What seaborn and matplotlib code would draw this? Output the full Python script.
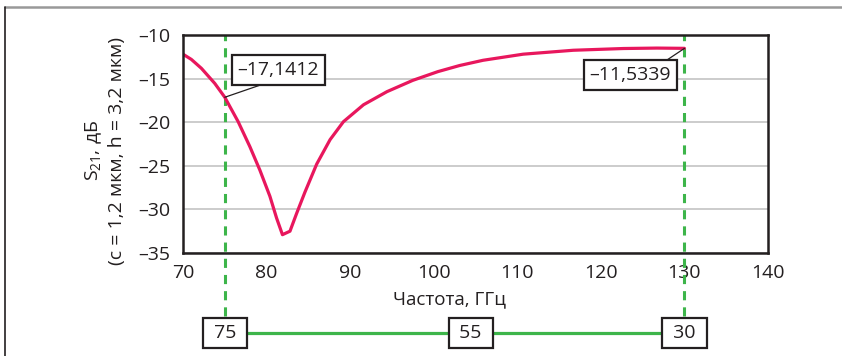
import matplotlib.pyplot as plt
import seaborn as sns
from matplotlib.lines import Line2D

# S21 curve
freq = [70, 71, 72.2, 73.8, 75, 76.6, 78, 79.2, 80.4, 81.2, 81.9, 82.8, 83.6, 84.6,
        86.0, 87.6, 89.2, 91.6, 94.4, 97.5, 100.5, 103.1, 105.9, 110.7, 116.7, 122.7,
        126.7, 130]
s21 = [-12.2, -12.8, -13.82, -15.55, -17.14, -19.94, -22.8, -25.5, -28.5, -31.0, -32.9,
       -32.5, -30.45, -28.0, -24.8, -22.0, -19.94, -18.0, -16.5, -15.2, -14.2, -13.5,
       -12.9, -12.2, -11.75, -11.55, -11.5, -11.53]

marker_freq = [75, 130]
marker_val = [-17.1412, -11.5339]
marker_text = ['–17,1412', '–11,5339']

band_freq = [75, 130]
band_labels = ['75', '55', '30']

x_ticks = [70, 80, 90, 100, 110, 120, 130, 140]
y_ticks = [-35, -30, -25, -20, -15, -10]

sns.set_theme(style='white')
plt.rcParams['font.family'] = ['Open Sans', 'DejaVu Sans']
plt.rcParams['mathtext.fontset'] = 'custom'
plt.rcParams['mathtext.rm'] = 'Open Sans'
plt.rcParams['mathtext.it'] = 'Open Sans:italic'

dark = '#231f20'
green = '#3db54a'
red = '#e8175d'
fs = 14

fig = plt.figure(figsize=(8.42, 3.56), dpi=100)
ax = fig.add_axes([183 / 842, 1 - 253 / 356, 585 / 842, 218 / 356])

sns.lineplot(x=freq, y=s21, ax=ax, color=red, lw=2.3, zorder=4)

ax.set_xlim(70, 140)
ax.set_ylim(-35, -10)
ax.set_xticks(x_ticks)
ax.set_xticklabels([str(v) for v in x_ticks], fontsize=fs, color=dark)
ax.set_yticks(y_ticks)
ax.set_yticklabels(['–' + str(abs(v)) for v in y_ticks], fontsize=fs, color=dark)
ax.tick_params(axis='x', direction='in', length=6, width=1, color='#aaaaaa', pad=8)
ax.tick_params(axis='y', length=0, pad=9)
ax.yaxis.grid(True, color='#c4c4c4', lw=1.2)
ax.xaxis.grid(False)
for sp in ax.spines.values():
    sp.set_color(dark)
    sp.set_linewidth(1.8)
    sp.set_zorder(5)

ax.set_xlabel('Частота, ГГц', fontsize=13.5, color=dark)
ax.xaxis.set_label_coords(0.456, -0.17)
ax.set_ylabel('S$_{21}$, дБ\n(с = 1,2 мкм, h = 3,2 мкм)', fontsize=fs, color=dark,
              linespacing=1.25)
ax.yaxis.set_label_coords(-0.098, 0.47)

# vertical dashed markers reaching the band strip
for f in band_freq:
    ax.axvline(f, ymin=-0.289, ymax=1, clip_on=False, color=green, lw=2.2,
               ls=(0, (3, 2.3)), zorder=3)

# value callouts
box = dict(boxstyle='square,pad=0.3', fc='white', ec=dark, lw=1.6)
ax.annotate(marker_text[0], xy=(marker_freq[0], marker_val[0]), xytext=(81.4, -14.0),
            ha='center', va='center', fontsize=fs, color=dark, bbox=box, zorder=6,
            arrowprops=dict(arrowstyle='-', color=dark, lw=0.9, relpos=(0.5, 0),
                            shrinkA=0, shrinkB=0))
ax.annotate(marker_text[1], xy=(marker_freq[1], marker_val[1]), xytext=(123.5, -14.6),
            ha='center', va='center', fontsize=fs, color=dark, bbox=box, zorder=6,
            arrowprops=dict(arrowstyle='-', color=dark, lw=0.9, relpos=(0.84, 1),
                            shrinkA=0, shrinkB=0))

# band strip under the chart
ax2 = fig.add_axes([183 / 842, 1 - 348 / 356, 585 / 842, 30 / 356])
ax2.set_xlim(70, 140)
ax2.set_ylim(-1, 1)
ax2.axis('off')
ax2.hlines(0, band_freq[0], band_freq[1], color=green, lw=2.3, zorder=1)
mid = band_freq[0] + 0.535 * (band_freq[1] - band_freq[0])
for xpos, lab in zip([band_freq[0], mid, band_freq[1]], band_labels):
    ax2.text(xpos, 0, ' ' + lab + ' ', ha='center', va='center', fontsize=fs, color=dark,
             bbox=box, zorder=3)

# outer frame (top and left edges)
fig.add_artist(Line2D([5 / 842, 1], [1 - 7 / 356] * 2, color='#999999', lw=1.8))
fig.add_artist(Line2D([5 / 842] * 2, [0, 1 - 7 / 356], color=dark, lw=1.2))

fig.savefig('out.png', dpi=100)
